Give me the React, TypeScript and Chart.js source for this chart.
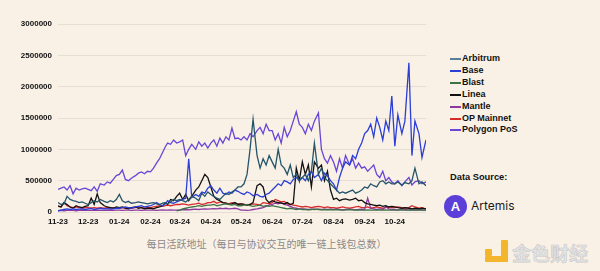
import React, { useEffect, useRef } from "react";
import { Chart, registerables } from "chart.js";

Chart.register(...registerables);

// months (days since 2023-11-01) and their tick labels
const monthStarts = [0, 30, 61, 92, 121, 152, 182, 213, 243, 274, 305, 335];
const monthEnds = [30, 61, 92, 121, 152, 182, 213, 243, 274, 305, 335, 369];
const monthLabels = ["11-23", "12-23", "01-24", "02-24", "03-24", "04-24", "05-24", "06-24", "07-24", "08-24", "09-24", "10-24"];
const yTicks = [0, 500000, 1000000, 1500000, 2000000, 2500000, 3000000];

// values in thousands of daily active addresses, 10 samples per month
const arbitrum = [
  150, 120, 130, 250, 200, 180, 170, 150, 160, 140,
  120, 150, 180, 160, 200, 170, 150, 180, 160, 200,
  280, 180, 150, 170, 140, 150, 160, 150, 140, 130,
  140, 150, 130, 120, 140, 150, 130, 160, 200, 180,
  200, 180, 160, 200, 250, 220, 180, 300, 250, 320,
  280, 250, 220, 200, 250, 300, 280, 320, 350, 400,
  400, 450, 600, 1000, 1480, 900, 700, 850, 750, 900,
  800, 700, 1000, 750, 700, 600, 750, 550, 600, 500,
  550, 600, 500, 650, 1100, 600, 700, 550, 500, 450,
  400, 350, 300, 320, 300, 330, 350, 300, 320, 350,
  400, 380, 450, 420, 400, 480, 500, 450, 480, 450,
  450, 480, 430, 470, 450, 500, 700, 450, 480, 420,
];
const base = [
  20, 30, 40, 50, 40, 50, 40, 45, 50, 40,
  50, 60, 40, 50, 60, 50, 55, 45, 50, 60,
  60, 70, 80, 70, 60, 80, 90, 100, 80, 90,
  100, 120, 150, 120, 100, 130, 180, 150, 140, 160,
  180, 200, 220, 850, 230, 280, 250, 320, 300, 380,
  420, 350, 300, 380, 300, 280, 320, 300, 350, 330,
  300, 280, 320, 300, 260, 280, 250, 240, 280, 300,
  350, 400, 450, 420, 500, 480, 450, 520, 550, 500,
  550, 500, 600, 650, 550, 600, 500, 620, 580, 500,
  450, 350, 550, 700, 800, 750, 900, 850, 1000, 1100,
  1250, 1300, 1400, 1200, 1500, 1350, 1150, 1450, 1300, 1850,
  1050, 1550, 1250, 1450, 2380, 900, 1450, 1250, 870, 1150,
];
const blast = [
  null, null, null, null, null, null, null, null, null, null,
  null, null, null, null, null, null, null, null, null, null,
  null, null, null, null, null, null, null, null, null, null,
  null, null, null, null, null, null, null, null, null, 20,
  30, 50, 60, 70, 80, 90, 100, 90, 100, 110,
  110, 120, 100, 110, 120, 130, 120, 110, 120, 100,
  100, 110, 120, 100, 90, 100, 110, 90, 100, 90,
  100, 90, 80, 70, 60, 50, 60, 50, 40, 50,
  40, 40, 35, 40, 45, 40, 35, 40, 35, 40,
  35, 40, 35, 30, 35, 40, 35, 30, 35, 30,
  30, 35, 30, 30, 35, 30, 30, 35, 30, 30,
  30, 30, 35, 30, 30, 30, 35, 30, 30, 30,
];
const linea = [
  100, 80, 150, 120, 80, 60, 100, 80, 70, 90,
  100, 220, 120, 290, 150, 100, 80, 70, 60, 80,
  70, 80, 60, 50, 70, 80, 60, 70, 50, 60,
  60, 50, 70, 80, 100, 150, 120, 200, 180, 250,
  300, 200, 280, 180, 250, 350, 400, 500, 600, 550,
  400, 250, 200, 180, 150, 140, 120, 130, 150, 120,
  130, 120, 110, 120, 150, 420, 450, 400, 200, 150,
  180, 160, 150, 140, 130, 150, 120, 140, 700, 500,
  800, 600, 750, 400, 800, 700, 750, 500, 650, 350,
  200, 220, 180, 200, 210, 190, 200, 220, 180, 190,
  150, 130, 120, 110, 100, 110, 90, 100, 80, 90,
  80, 70, 60, 70, 60, 50, 60, 50, 60, 50,
];
const mantle = [
  20, 25, 20, 25, 30, 25, 20, 25, 30, 25,
  25, 30, 25, 30, 25, 30, 25, 30, 25, 30,
  30, 25, 30, 30, 25, 30, 30, 25, 30, 30,
  30, 30, 25, 30, 35, 30, 30, 35, 30, 30,
  30, 35, 40, 35, 40, 45, 40, 45, 50, 45,
  50, 55, 50, 60, 55, 60, 50, 55, 60, 50,
  30, 30, 25, 30, 40, 50, 60, 70, 90, 110,
  120, 140, 130, 150, 120, 110, 90, 70, 60, 50,
  50, 45, 40, 45, 40, 45, 40, 45, 40, 45,
  40, 45, 40, 35, 40, 45, 40, 35, 40, 45,
  40, 220, 60, 50, 40, 50, 40, 90, 50, 40,
  40, 30, 50, 40, 30, 40, 30, 40, 30, 30,
];
const opMainnet = [
  90, 80, 150, 100, 80, 70, 80, 70, 60, 70,
  70, 60, 70, 60, 70, 60, 70, 60, 70, 60,
  60, 70, 60, 70, 60, 70, 80, 70, 60, 70,
  70, 80, 90, 100, 90, 100, 110, 100, 110, 120,
  120, 130, 120, 110, 120, 130, 140, 120, 130, 150,
  150, 170, 140, 160, 150, 140, 130, 150, 140, 130,
  130, 120, 110, 120, 130, 120, 110, 150, 140, 130,
  150, 200, 180, 160, 170, 130, 120, 110, 100, 90,
  80, 90, 80, 70, 80, 90, 80, 70, 80, 70,
  70, 60, 70, 80, 70, 60, 70, 80, 90, 70,
  70, 80, 60, 70, 80, 70, 60, 70, 80, 70,
  70, 80, 70, 60, 70, 100, 80, 60, 70, 50,
];
const polygon = [
  360, 380, 400, 350, 420, 290, 380, 350, 370, 380,
  360, 340, 400, 330, 450, 430, 480, 460, 520, 580,
  600, 670, 520, 500, 540, 580, 620, 640, 610, 650,
  640, 700, 780, 850, 950, 1050, 1100, 1080, 1150, 1100,
  1120, 1150, 900, 1000, 1080, 1000, 1120, 1050, 1100, 1020,
  1100, 1150, 1050, 1180, 1100, 1200, 1150, 1340, 1170, 1180,
  1150, 1200, 1150, 1250, 1200, 1300, 1350, 1250, 1400, 1300,
  1300, 1150, 1250, 1100, 1350, 1200, 1300, 1450, 1600, 1400,
  1350, 1250, 1400, 1300, 1450, 1580, 1000, 850, 780, 900,
  800, 650, 850, 700, 900, 750, 850, 700, 780, 700,
  720, 650, 700, 750, 600, 550, 650, 500, 550, 480,
  450, 500, 420, 480, 550, 430, 480, 500, 450, 480,
];

const seriesNames = ["Arbitrum", "Base", "Blast", "Linea", "Mantle", "OP Mainnet", "Polygon PoS"];
const seriesValues = [arbitrum, base, blast, linea, mantle, opMainnet, polygon];
const lineColors = ["#24556a", "#2b3ed6", "#3d7347", "#111111", "#8e3aa0", "#d62a2a", "#6b45d6"];
const legendColors = ["#5a7d98", "#2b3ed6", "#3d7347", "#111111", "#8e3aa0", "#d62a2a", "#6b45d6"];

const sampleDays: number[] = [];
monthStarts.forEach((s, m) => {
  for (let i = 0; i < 10; i++) sampleDays.push(s + Math.round((i * (monthEnds[m] - s)) / 10));
});

const BG = "#f9f1e6";
const FONT = "'Liberation Sans', Arial, Helvetica, sans-serif";

export default function App() {
  const ref = useRef<HTMLCanvasElement | null>(null);

  useEffect(() => {
    document.body.style.margin = "0";
    document.body.style.background = BG;
    const ctx = ref.current;
    if (!ctx) return;
    const chart = new Chart(ctx, {
      type: "line",
      data: {
        datasets: seriesNames.map((name, k) => ({
          label: name,
          data: sampleDays.map((d, i) => ({ x: d, y: seriesValues[k][i] == null ? null : (seriesValues[k][i] as number) * 1000 })),
          borderColor: lineColors[k],
          backgroundColor: lineColors[k],
          borderWidth: 1.3,
          pointRadius: 0,
          tension: 0,
          fill: false,
          spanGaps: false,
        })),
      },
      options: {
        animation: false,
        responsive: false,
        layout: { padding: { top: 24, right: 14, left: 0, bottom: 0 } },
        plugins: { legend: { display: false }, tooltip: { enabled: false } },
        scales: {
          x: {
            type: "linear",
            min: 0,
            max: sampleDays[sampleDays.length - 1],
            grid: { display: false, drawTicks: false },
            border: { display: false },
            afterBuildTicks: (s: any) => {
              s.ticks = monthStarts.map((v) => ({ value: v }));
            },
            afterFit: (s: any) => {
              s.height = 16;
            },
            ticks: {
              autoSkip: false,
              maxRotation: 0,
              padding: 5,
              color: "#111",
              font: { family: FONT, size: 8, weight: "bold" },
              callback: (v: any) => {
                const i = monthStarts.indexOf(Number(v));
                return i >= 0 ? monthLabels[i] : "";
              },
            },
          },
          y: {
            min: 0,
            max: 3000000,
            grid: { color: "#e4ded4", drawTicks: false, lineWidth: 1 },
            border: { display: false },
            afterBuildTicks: (s: any) => {
              s.ticks = yTicks.map((v) => ({ value: v }));
            },
            afterFit: (s: any) => {
              s.width = 58;
            },
            ticks: {
              padding: 6,
              color: "#111",
              font: { family: FONT, size: 8, weight: "bold" },
              callback: (v: any) => String(v),
            },
          },
        },
      },
    });
    return () => chart.destroy();
  }, []);

  return (
    <div style={{ position: "absolute", left: 0, top: 0, width: 600, height: 271, background: BG, overflow: "hidden" }}>
      <canvas ref={ref} width={440} height={228} style={{ position: "absolute", left: 0, top: 0, display: "block" }} />
      {seriesNames.map((n, i) => (
        <div key={n} style={{ position: "absolute", left: 450, top: Math.round(52 + i * 11.9), height: 12, width: 120 }}>
          <div style={{ position: "absolute", left: 0, top: 6, width: 11, height: 2, background: legendColors[i] }} />
          <div style={{ position: "absolute", left: 12, top: 1, font: `bold 9px ${FONT}`, color: "#111", whiteSpace: "nowrap" }}>{n}</div>
        </div>
      ))}
      <div style={{ position: "absolute", left: 450, top: 172, font: `bold 9.3px ${FONT}`, color: "#111", whiteSpace: "nowrap" }}>Data Source:</div>
      <div style={{ position: "absolute", left: 444, top: 195, width: 23, height: 23, borderRadius: "50%", background: "#5b3fd8", display: "flex", alignItems: "center", justifyContent: "center", color: "#fff", font: `900 13px ${FONT}` }}>A</div>
      <div style={{ position: "absolute", left: 471, top: 198, font: `12px Inter, Lato, sans-serif`, color: "#1b1b1b", whiteSpace: "nowrap" }}>Artemis</div>
      <div style={{ position: "absolute", left: 0, width: 533, top: 236, textAlign: "center", font: `10px 'Noto Sans CJK SC', sans-serif`, color: "#8a8a8a", whiteSpace: "nowrap" }}>
        每日活跃地址（每日与协议交互的唯一链上钱包总数）
      </div>
      <div style={{ position: "absolute", left: 485, top: 249, width: 7, height: 7, background: "#f3b52c", borderRadius: 1 }} />
      <div style={{ position: "absolute", left: 501, top: 240, width: 7, height: 22, background: "#f3b52c", borderRadius: 1 }} />
      <div style={{ position: "absolute", left: 485, top: 256, width: 23, height: 6, background: "#f3b52c", borderRadius: 1 }} />
      <div style={{ position: "absolute", left: 512, top: 239, font: `bold 19px 'Noto Sans CJK SC', sans-serif`, color: "#e4e4e4", WebkitTextStroke: "0.6px #c9c9c9", whiteSpace: "nowrap", letterSpacing: 0 }}>
        金色财经
      </div>
    </div>
  );
}
